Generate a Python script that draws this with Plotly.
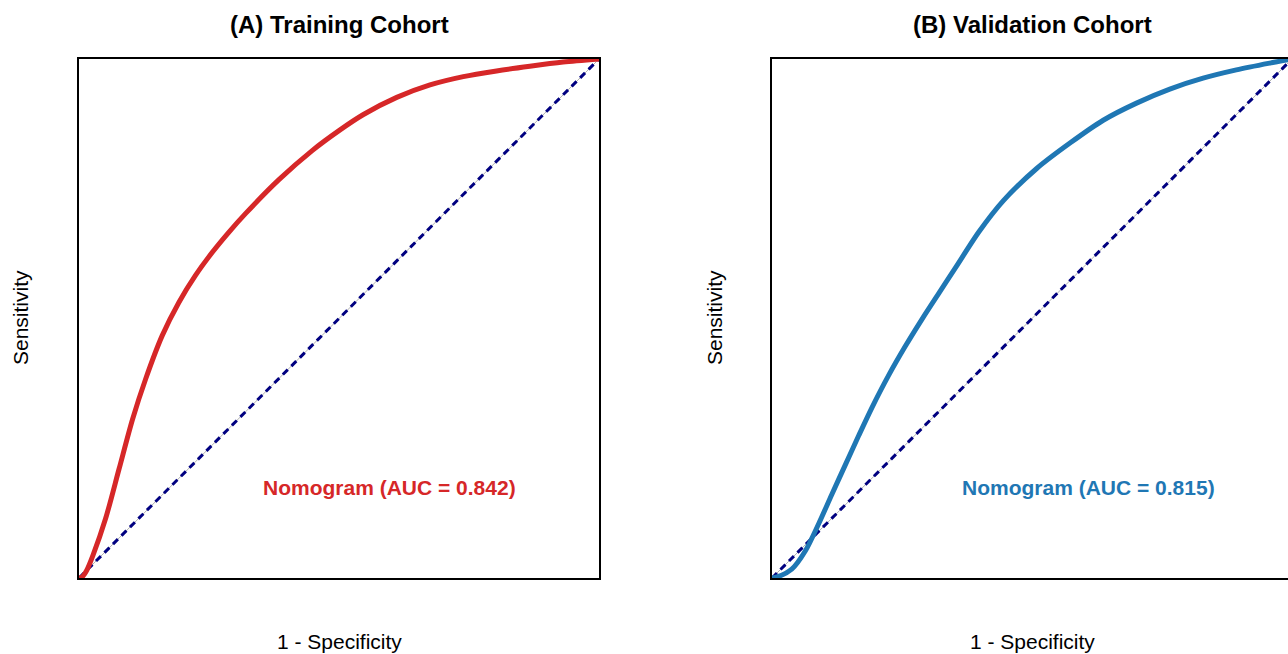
import plotly.graph_objects as go

# ---- data ----
train_fpr = [0.0, 0.006, 0.015, 0.027, 0.051, 0.077, 0.103, 0.128, 0.160, 0.192, 0.224, 0.256,
             0.288, 0.321, 0.385, 0.449, 0.500, 0.547, 0.611, 0.675, 0.739, 0.803,
             0.867, 0.931, 1.0]
train_tpr = [0.0, 0.002, 0.015, 0.044, 0.114, 0.210, 0.306, 0.383, 0.467, 0.531, 0.583, 0.627,
             0.666, 0.703, 0.768, 0.824, 0.862, 0.893, 0.926, 0.950, 0.966, 0.977,
             0.986, 0.994, 1.0]

valid_fpr = [0.0, 0.010, 0.038, 0.064, 0.090, 0.115, 0.141, 0.167, 0.192, 0.224, 0.256,
             0.288, 0.321, 0.353, 0.398, 0.445, 0.509, 0.573, 0.637, 0.701,
             0.765, 0.829, 0.893, 0.957, 1.0]
valid_tpr = [0.0, 0.002, 0.017, 0.052, 0.105, 0.161, 0.218, 0.275, 0.328, 0.390, 0.446,
             0.498, 0.549, 0.598, 0.667, 0.727, 0.789, 0.838, 0.882, 0.915,
             0.942, 0.963, 0.979, 0.992, 1.0]

ref_line = [0.0, 1.0]

titles = ["(A) Training Cohort", "(B) Validation Cohort"]
auc_labels = ["Nomogram (AUC = 0.842)", "Nomogram (AUC = 0.815)"]
x_title = "1 - Specificity"
y_title = "Sensitivity"

RED = "#d62728"
BLUE = "#1f77b4"
NAVY = "#000080"

W, H = 1288, 654
FONT = "Liberation Sans, Arial, sans-serif"

# plot-area pixel geometry
L1, R1 = 79, 599
L2 = 772
PW = 520
TOP, BOT = 59, 578

fig = go.Figure()

for i, (fx, ty, col) in enumerate([(train_fpr, train_tpr, RED), (valid_fpr, valid_tpr, BLUE)]):
    xa = "x" if i == 0 else "x2"
    ya = "y" if i == 0 else "y2"
    fig.add_trace(go.Scatter(x=ref_line, y=ref_line, mode="lines",
                             line=dict(color="#b0b0b0", width=1),
                             xaxis=xa, yaxis=ya, showlegend=False, hoverinfo="skip"))
    fig.add_trace(go.Scatter(x=ref_line, y=ref_line, mode="lines",
                             line=dict(color=NAVY, width=3, dash="7px,5px"),
                             xaxis=xa, yaxis=ya, showlegend=False, hoverinfo="skip"))
    fig.add_trace(go.Scatter(x=fx, y=ty, mode="lines",
                             line=dict(color=col, width=5, shape="spline", smoothing=0.8),
                             xaxis=xa, yaxis=ya, showlegend=False))

ydom = [(H - BOT) / H, (H - TOP) / H]
axis_common = dict(showgrid=False, zeroline=False, showticklabels=False, ticks="",
                   showline=True, linecolor="black", linewidth=2)

fig.update_layout(
    width=W, height=H,
    margin=dict(l=0, r=0, t=0, b=0),
    paper_bgcolor="white", plot_bgcolor="white",
    font=dict(family=FONT, color="black"),
    xaxis=dict(domain=[L1 / W, R1 / W], range=[0, 1], mirror=True, **axis_common),
    yaxis=dict(domain=ydom, range=[0, 1], mirror=True, anchor="x", **axis_common),
    xaxis2=dict(domain=[L2 / W, 1.0], range=[0, (W - L2) / PW], mirror=True,
                anchor="y2", **axis_common),
    yaxis2=dict(domain=ydom, range=[0, 1], mirror=False, anchor="x2", **axis_common),
)

centers = [(L1 + R1) / 2, L2 + PW / 2]
ann = []
for i in range(2):
    cx = centers[i] / W
    ann.append(dict(text="<b>" + titles[i] + "</b>", x=cx, y=1 - 24 / H, xref="paper", yref="paper",
                    showarrow=False, font=dict(size=24, family=FONT, color="black"),
                    xanchor="center", yanchor="middle"))
    ann.append(dict(text=x_title, x=cx, y=1 - 641 / H, xref="paper", yref="paper",
                    showarrow=False, font=dict(size=21, family=FONT, color="black"),
                    xanchor="center", yanchor="middle"))
    yx = [20, 714][i]
    ann.append(dict(text=y_title, x=yx / W, y=1 - 318 / H, xref="paper", yref="paper",
                    showarrow=False, textangle=-90, font=dict(size=21, family=FONT, color="black"),
                    xanchor="center", yanchor="middle"))
ann.append(dict(text="<b>" + auc_labels[0] + "</b>", x=0.597, y=0.175, xref="x", yref="y",
                showarrow=False, font=dict(size=21, family=FONT, color=RED),
                xanchor="center", yanchor="middle"))
ann.append(dict(text="<b>" + auc_labels[1] + "</b>", x=0.608, y=0.175, xref="x2", yref="y2",
                showarrow=False, font=dict(size=21, family=FONT, color=BLUE),
                xanchor="center", yanchor="middle"))
fig.update_layout(annotations=ann)

fig.write_html("out.html")
